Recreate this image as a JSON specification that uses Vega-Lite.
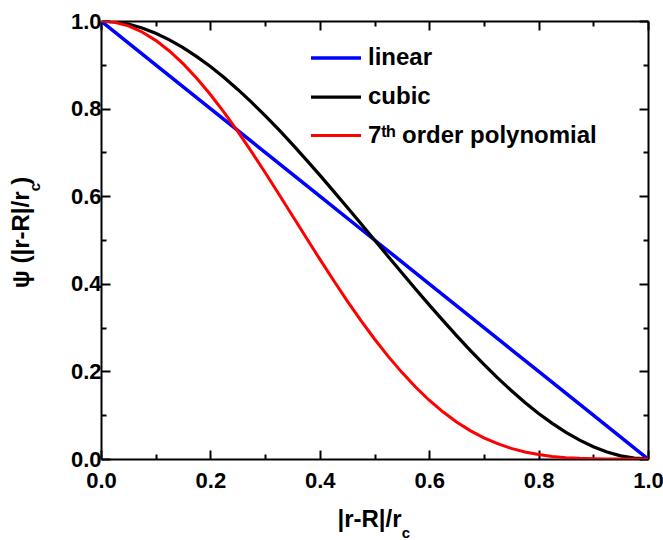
{
  "$schema": "https://vega.github.io/schema/vega-lite/v6.json",
  "autosize": {"type": "none"},
  "width": 547,
  "height": 438,
  "padding": {"left": 101, "top": 21, "right": 15, "bottom": 81},
  "background": "white",
  "config": {
    "view": {"stroke": null},
    "font": "Liberation Sans",
    "axis": {
      "domainColor": "black", "domainWidth": 2,
      "tickColor": "black", "tickWidth": 2,
      "labelFont": "Liberation Sans", "labelFontWeight": "bold", "labelFontSize": 22, "labelColor": "black",
      "labelFlush": false,
      "titleFont": "Liberation Sans", "titleFontWeight": "bold", "titleFontSize": 24, "titleColor": "black",
      "grid": false
    }
  },
  "datasets": {
    "curves": [
      {"x": 0.0, "y": 1.0, "s": "linear"},
      {"x": 0.1, "y": 0.9, "s": "linear"},
      {"x": 0.2, "y": 0.8, "s": "linear"},
      {"x": 0.3, "y": 0.7, "s": "linear"},
      {"x": 0.4, "y": 0.6, "s": "linear"},
      {"x": 0.5, "y": 0.5, "s": "linear"},
      {"x": 0.6, "y": 0.4, "s": "linear"},
      {"x": 0.7, "y": 0.3, "s": "linear"},
      {"x": 0.8, "y": 0.2, "s": "linear"},
      {"x": 0.9, "y": 0.1, "s": "linear"},
      {"x": 1.0, "y": 0.0, "s": "linear"},
      {"x": 0.0, "y": 1.0, "s": "cubic"},
      {"x": 0.025, "y": 0.9982, "s": "cubic"},
      {"x": 0.05, "y": 0.9928, "s": "cubic"},
      {"x": 0.075, "y": 0.984, "s": "cubic"},
      {"x": 0.1, "y": 0.972, "s": "cubic"},
      {"x": 0.125, "y": 0.957, "s": "cubic"},
      {"x": 0.15, "y": 0.9393, "s": "cubic"},
      {"x": 0.175, "y": 0.9188, "s": "cubic"},
      {"x": 0.2, "y": 0.896, "s": "cubic"},
      {"x": 0.225, "y": 0.8709, "s": "cubic"},
      {"x": 0.25, "y": 0.8438, "s": "cubic"},
      {"x": 0.275, "y": 0.8147, "s": "cubic"},
      {"x": 0.3, "y": 0.784, "s": "cubic"},
      {"x": 0.325, "y": 0.7518, "s": "cubic"},
      {"x": 0.35, "y": 0.7183, "s": "cubic"},
      {"x": 0.375, "y": 0.6836, "s": "cubic"},
      {"x": 0.4, "y": 0.648, "s": "cubic"},
      {"x": 0.425, "y": 0.6117, "s": "cubic"},
      {"x": 0.45, "y": 0.5748, "s": "cubic"},
      {"x": 0.475, "y": 0.5375, "s": "cubic"},
      {"x": 0.5, "y": 0.5, "s": "cubic"},
      {"x": 0.525, "y": 0.4625, "s": "cubic"},
      {"x": 0.55, "y": 0.4253, "s": "cubic"},
      {"x": 0.575, "y": 0.3883, "s": "cubic"},
      {"x": 0.6, "y": 0.352, "s": "cubic"},
      {"x": 0.625, "y": 0.3164, "s": "cubic"},
      {"x": 0.65, "y": 0.2818, "s": "cubic"},
      {"x": 0.675, "y": 0.2482, "s": "cubic"},
      {"x": 0.7, "y": 0.216, "s": "cubic"},
      {"x": 0.725, "y": 0.1853, "s": "cubic"},
      {"x": 0.75, "y": 0.1563, "s": "cubic"},
      {"x": 0.775, "y": 0.1291, "s": "cubic"},
      {"x": 0.8, "y": 0.104, "s": "cubic"},
      {"x": 0.825, "y": 0.0812, "s": "cubic"},
      {"x": 0.85, "y": 0.0608, "s": "cubic"},
      {"x": 0.875, "y": 0.043, "s": "cubic"},
      {"x": 0.9, "y": 0.028, "s": "cubic"},
      {"x": 0.925, "y": 0.016, "s": "cubic"},
      {"x": 0.95, "y": 0.0073, "s": "cubic"},
      {"x": 0.975, "y": 0.0018, "s": "cubic"},
      {"x": 1.0, "y": 0.0, "s": "cubic"},
      {"x": 0.0, "y": 1.0, "s": "7ᵗʰ order polynomial"},
      {"x": 0.025, "y": 0.9972, "s": "7ᵗʰ order polynomial"},
      {"x": 0.05, "y": 0.9888, "s": "7ᵗʰ order polynomial"},
      {"x": 0.075, "y": 0.9749, "s": "7ᵗʰ order polynomial"},
      {"x": 0.1, "y": 0.9558, "s": "7ᵗʰ order polynomial"},
      {"x": 0.125, "y": 0.9316, "s": "7ᵗʰ order polynomial"},
      {"x": 0.15, "y": 0.9027, "s": "7ᵗʰ order polynomial"},
      {"x": 0.175, "y": 0.8694, "s": "7ᵗʰ order polynomial"},
      {"x": 0.2, "y": 0.8322, "s": "7ᵗʰ order polynomial"},
      {"x": 0.225, "y": 0.7915, "s": "7ᵗʰ order polynomial"},
      {"x": 0.25, "y": 0.7479, "s": "7ᵗʰ order polynomial"},
      {"x": 0.275, "y": 0.7019, "s": "7ᵗʰ order polynomial"},
      {"x": 0.3, "y": 0.6541, "s": "7ᵗʰ order polynomial"},
      {"x": 0.325, "y": 0.6051, "s": "7ᵗʰ order polynomial"},
      {"x": 0.35, "y": 0.5554, "s": "7ᵗʰ order polynomial"},
      {"x": 0.375, "y": 0.5056, "s": "7ᵗʰ order polynomial"},
      {"x": 0.4, "y": 0.4563, "s": "7ᵗʰ order polynomial"},
      {"x": 0.425, "y": 0.408, "s": "7ᵗʰ order polynomial"},
      {"x": 0.45, "y": 0.3612, "s": "7ᵗʰ order polynomial"},
      {"x": 0.475, "y": 0.3164, "s": "7ᵗʰ order polynomial"},
      {"x": 0.5, "y": 0.274, "s": "7ᵗʰ order polynomial"},
      {"x": 0.525, "y": 0.2343, "s": "7ᵗʰ order polynomial"},
      {"x": 0.55, "y": 0.1978, "s": "7ᵗʰ order polynomial"},
      {"x": 0.575, "y": 0.1644, "s": "7ᵗʰ order polynomial"},
      {"x": 0.6, "y": 0.1342, "s": "7ᵗʰ order polynomial"},
      {"x": 0.625, "y": 0.1077, "s": "7ᵗʰ order polynomial"},
      {"x": 0.65, "y": 0.0845, "s": "7ᵗʰ order polynomial"},
      {"x": 0.675, "y": 0.0648, "s": "7ᵗʰ order polynomial"},
      {"x": 0.7, "y": 0.0483, "s": "7ᵗʰ order polynomial"},
      {"x": 0.725, "y": 0.0349, "s": "7ᵗʰ order polynomial"},
      {"x": 0.75, "y": 0.0242, "s": "7ᵗʰ order polynomial"},
      {"x": 0.775, "y": 0.0161, "s": "7ᵗʰ order polynomial"},
      {"x": 0.8, "y": 0.0101, "s": "7ᵗʰ order polynomial"},
      {"x": 0.825, "y": 0.0059, "s": "7ᵗʰ order polynomial"},
      {"x": 0.85, "y": 0.0031, "s": "7ᵗʰ order polynomial"},
      {"x": 0.875, "y": 0.0015, "s": "7ᵗʰ order polynomial"},
      {"x": 0.9, "y": 0.0006, "s": "7ᵗʰ order polynomial"},
      {"x": 0.925, "y": 0.0002, "s": "7ᵗʰ order polynomial"},
      {"x": 0.95, "y": 0.0, "s": "7ᵗʰ order polynomial"},
      {"x": 0.975, "y": 0.0, "s": "7ᵗʰ order polynomial"},
      {"x": 1.0, "y": 0.0, "s": "7ᵗʰ order polynomial"}
    ]
  },
  "resolve": {"axis": {"x": "independent", "y": "independent"}},
  "layer": [
    {
      "data": {"name": "curves"},
      "mark": {"type": "line", "clip": true},
      "encoding": {
        "x": {
          "field": "x", "type": "quantitative",
          "scale": {"domain": [0, 1], "nice": false, "zero": false},
          "axis": {
            "orient": "bottom", "title": "|r-R|/r", "titleX": 268,
            "values": [0, 0.1, 0.2, 0.3, 0.4, 0.5, 0.6, 0.7, 0.8, 0.9, 1.0],
            "labelExpr": "round(datum.value*10)%2==0 ? format(datum.value,'.1f') : ''",
            "tickSize": {"condition": {"test": "round(datum.value*10)%2==0", "value": -9}, "value": -5},
            "labelPadding": 20, "titlePadding": 16
          }
        },
        "y": {
          "field": "y", "type": "quantitative",
          "scale": {"domain": [0, 1], "nice": false, "zero": false},
          "axis": {
            "orient": "left", "title": "ψ (|r-R|/r  )",
            "values": [0, 0.1, 0.2, 0.3, 0.4, 0.5, 0.6, 0.7, 0.8, 0.9, 1.0],
            "labelExpr": "round(datum.value*10)%2==0 ? format(datum.value,'.1f') : ''",
            "tickSize": {"condition": {"test": "round(datum.value*10)%2==0", "value": -9}, "value": -5},
            "labelPadding": 9, "titlePadding": 37, "titleY": 211
          }
        },
        "color": {
          "field": "s", "type": "nominal",
          "scale": {"domain": ["linear", "cubic", "7ᵗʰ order polynomial"], "range": ["#0000ff", "#000000", "#ff0000"]},
          "legend": {
            "title": null, "orient": "none", "legendX": 208, "legendY": 10,
            "symbolType": "stroke", "symbolSize": 2500, "symbolStrokeWidth": 3,
            "labelFont": "Liberation Sans", "labelFontWeight": "bold", "labelFontSize": 24, "labelColor": "black",
            "labelOffset": 5, "labelLimit": 400, "rowPadding": -10, "padding": 0
          }
        },
        "strokeWidth": {
          "field": "s", "type": "nominal",
          "scale": {"domain": ["linear", "cubic", "7ᵗʰ order polynomial"], "range": [3.5, 3, 2]},
          "legend": null
        }
      }
    },
    {
      "data": {"name": "curves"},
      "mark": {"type": "line", "opacity": 0},
      "encoding": {
        "x": {
          "field": "x", "type": "quantitative",
          "scale": {"domain": [0, 1], "nice": false, "zero": false},
          "axis": {
            "orient": "top", "title": null, "labels": false,
            "values": [0, 0.1, 0.2, 0.3, 0.4, 0.5, 0.6, 0.7, 0.8, 0.9, 1.0],
            "tickSize": {"condition": {"test": "round(datum.value*10)%2==0", "value": -9}, "value": -5}
          }
        },
        "y": {
          "field": "y", "type": "quantitative",
          "scale": {"domain": [0, 1], "nice": false, "zero": false},
          "axis": {
            "orient": "right", "title": null, "labels": false,
            "values": [0, 0.1, 0.2, 0.3, 0.4, 0.5, 0.6, 0.7, 0.8, 0.9, 1.0],
            "tickSize": {"condition": {"test": "round(datum.value*10)%2==0", "value": -9}, "value": -5}
          }
        },
        "detail": {"field": "s"}
      }
    },
    {
      "data": {"values": [{}]},
      "mark": {"type": "text", "text": "c", "font": "Liberation Sans", "fontWeight": "bold", "fontSize": 15, "color": "black", "align": "center", "baseline": "middle"},
      "encoding": {
        "x": {"datum": 0.5576, "type": "quantitative", "axis": null},
        "y": {"datum": -0.17, "type": "quantitative", "axis": null}
      }
    },
    {
      "data": {"values": [{}]},
      "mark": {"type": "text", "text": "c", "font": "Liberation Sans", "fontWeight": "bold", "fontSize": 15, "color": "black", "align": "center", "baseline": "middle", "angle": 270},
      "encoding": {
        "x": {"datum": -0.1207, "type": "quantitative", "axis": null},
        "y": {"datum": 0.621, "type": "quantitative", "axis": null}
      }
    }
  ]
}
